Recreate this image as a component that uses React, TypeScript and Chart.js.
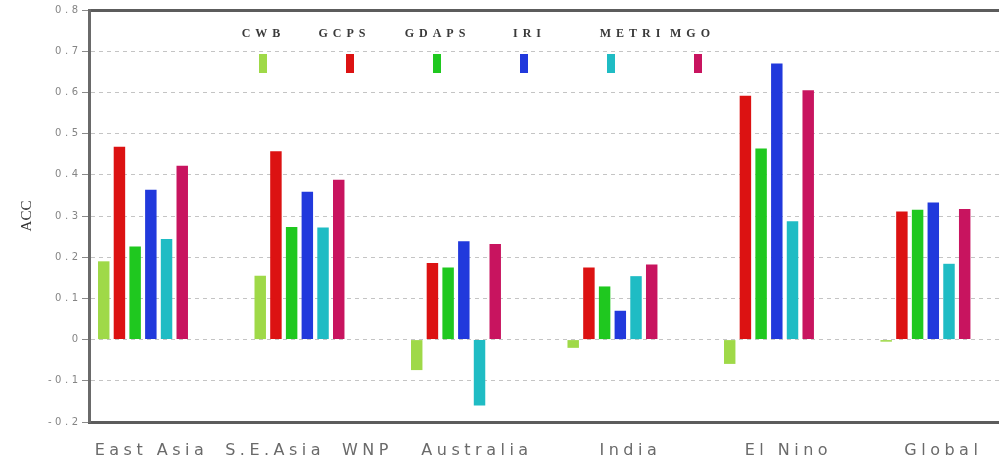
import React, { useEffect, useRef } from 'react';
import { Chart, registerables } from 'chart.js';

Chart.register(...registerables);

// x-axis labels (region names) and where they sit, in bar-group units
const regionLabels = ['East Asia', 'S.E.Asia', 'WNP', 'Australia', 'India', 'El Nino', 'Global'];
const regionLabelAt = [0.04, 0.83, 1.42, 2.12, 3.1, 4.11, 5.1];

// regions that have bars (WNP has none)
const barGroups = ['East Asia', 'S.E.Asia', 'Australia', 'India', 'El Nino', 'Global'];

// series (ACC per model)
const models = ['CWB', 'GCPS', 'GDAPS', 'IRI', 'METRI', 'MGO'];
const cwb = [0.19, 0.155, -0.074, -0.02, -0.059, -0.005];
const gcps = [0.468, 0.457, 0.186, 0.175, 0.592, 0.311];
const gdaps = [0.226, 0.273, 0.175, 0.129, 0.464, 0.315];
const iri = [0.364, 0.359, 0.239, 0.07, 0.67, 0.333];
const metri = [0.244, 0.272, -0.16, 0.154, 0.287, 0.184];
const mgo = [0.422, 0.388, 0.232, 0.182, 0.605, 0.317];

// y tick values
const yTicks = [-0.2, -0.1, 0, 0.1, 0.2, 0.3, 0.4, 0.5, 0.6, 0.7, 0.8];

const seriesValues = [cwb, gcps, gdaps, iri, metri, mgo];
const colors = ['#9fd948', '#dc1212', '#1fc81f', '#2139dc', '#1fbcc4', '#c8145f'];

// legend layout (pixels)
const LEGEND = {
  firstX: 263,
  stepX: 87,
  swatchW: 8,
  swatchTop: 54,
  swatchH: 19,
  textY: 34,
  textShift: [-2, -8, -2, 3, 19, -8],
  spacing: 5,
};

function spacedLabels(scale: any, ls: number, shift: number) {
  if (scale.__spaced) return;
  scale.__spaced = true;
  const orig = scale.drawLabels.bind(scale);
  scale.drawLabels = (area: any) => {
    const ctx = scale.ctx;
    ctx.save();
    ctx.letterSpacing = ls + 'px';
    ctx.translate(shift, 0);
    orig(area);
    ctx.restore();
  };
}

const legendPlugin = {
  id: 'topLegend',
  afterDatasetsDraw(chart: any) {
    const ctx = chart.ctx;
    ctx.save();
    ctx.font = 'bold 12px "Liberation Serif", "DejaVu Serif", serif';
    ctx.textBaseline = 'middle';
    ctx.textAlign = 'left';
    chart.data.datasets.forEach((ds: any, i: number) => {
      const cx = LEGEND.firstX + LEGEND.stepX * i;
      ctx.fillStyle = ds.backgroundColor;
      ctx.fillRect(cx - LEGEND.swatchW / 2, LEGEND.swatchTop, LEGEND.swatchW, LEGEND.swatchH);
      ctx.fillStyle = '#3a3a3a';
      ctx.letterSpacing = LEGEND.spacing + 'px';
      const w = ctx.measureText(ds.label).width - LEGEND.spacing;
      ctx.fillText(ds.label, cx + LEGEND.textShift[i] - w / 2, LEGEND.textY);
    });
    ctx.restore();
  },
};

export default function App() {
  const canvasRef = useRef<HTMLCanvasElement | null>(null);

  useEffect(() => {
    const canvas = canvasRef.current;
    if (!canvas) return;
    const groupIdx = barGroups.map((_, i) => i);
    const chart = new Chart(canvas, {
      type: 'bar',
      data: {
        datasets: models.map((m, k) => ({
          label: m,
          data: seriesValues[k].map((v, i) => ({ x: groupIdx[i], y: v })),
          backgroundColor: colors[k],
          borderWidth: 0,
          categoryPercentage: 0.602,
          barPercentage: 0.73,
          xAxisID: 'x',
          yAxisID: 'y',
        })),
      },
      options: {
        animation: false,
        responsive: true,
        maintainAspectRatio: false,
        layout: { padding: 0 },
        plugins: {
          legend: { display: false },
          tooltip: { enabled: false },
          title: { display: false },
        },
        scales: {
          x: {
            type: 'linear',
            position: 'top',
            offset: false,
            min: -0.345,
            max: 5.47,
            afterBuildTicks: (s: any) => {
              s.ticks = groupIdx.map((v) => ({ value: v }));
            },
            afterFit: (s: any) => {
              s.height = 10;
            },
            ticks: { display: false },
            grid: { display: false, drawTicks: false, offset: false },
            border: { display: true, color: '#5c5c5c', width: 3 },
          },
          x2: {
            type: 'linear',
            position: 'bottom',
            offset: false,
            min: -0.345,
            max: 5.47,
            afterBuildTicks: (s: any) => {
              s.ticks = regionLabelAt.map((v) => ({ value: v }));
            },
            afterFit: (s: any) => {
              s.height = 39;
            },
            afterUpdate: (s: any) => spacedLabels(s, 4.5, 2.25),
            ticks: {
              autoSkip: false,
              maxRotation: 0,
              minRotation: 0,
              padding: 19,
              color: '#6a6a6a',
              font: { family: '"DejaVu Sans", sans-serif', size: 16 },
              callback: (_v: any, i: number) => regionLabels[i],
            },
            grid: { display: false, drawTicks: false, offset: false },
            border: { display: true, color: '#5c5c5c', width: 3 },
          },
          y: {
            type: 'linear',
            position: 'left',
            min: -0.2,
            max: 0.8,
            afterBuildTicks: (s: any) => {
              s.ticks = yTicks.map((v) => ({ value: v }));
            },
            afterFit: (s: any) => {
              s.width = 89;
            },
            afterUpdate: (s: any) => spacedLabels(s, 3.5, 3.5),
            ticks: {
              padding: 4,
              color: '#858585',
              font: { family: '"DejaVu Sans", sans-serif', size: 10 },
              callback: (v: any) => String(Number(Number(v).toFixed(1))),
            },
            grid: {
              color: '#c4c4c4',
              lineWidth: 1,
              drawTicks: true,
              tickLength: 7,
              tickColor: '#8a8a8a',
              tickBorderDash: [],
            },
            border: { display: true, color: '#6a6a6a', width: 3, dash: [4, 4] },
            title: {
              display: true,
              text: 'ACC',
              color: '#333',
              font: { family: '"Liberation Serif", "DejaVu Serif", serif', size: 15 },
              padding: { top: 18, bottom: 0 },
            },
          },
        },
      },
      plugins: [legendPlugin],
    } as any);
    return () => chart.destroy();
  }, []);

  return (
    <div style={{ position: 'absolute', left: 0, top: 0, width: 999, height: 461, background: '#fff' }}>
      <canvas ref={canvasRef} />
    </div>
  );
}
